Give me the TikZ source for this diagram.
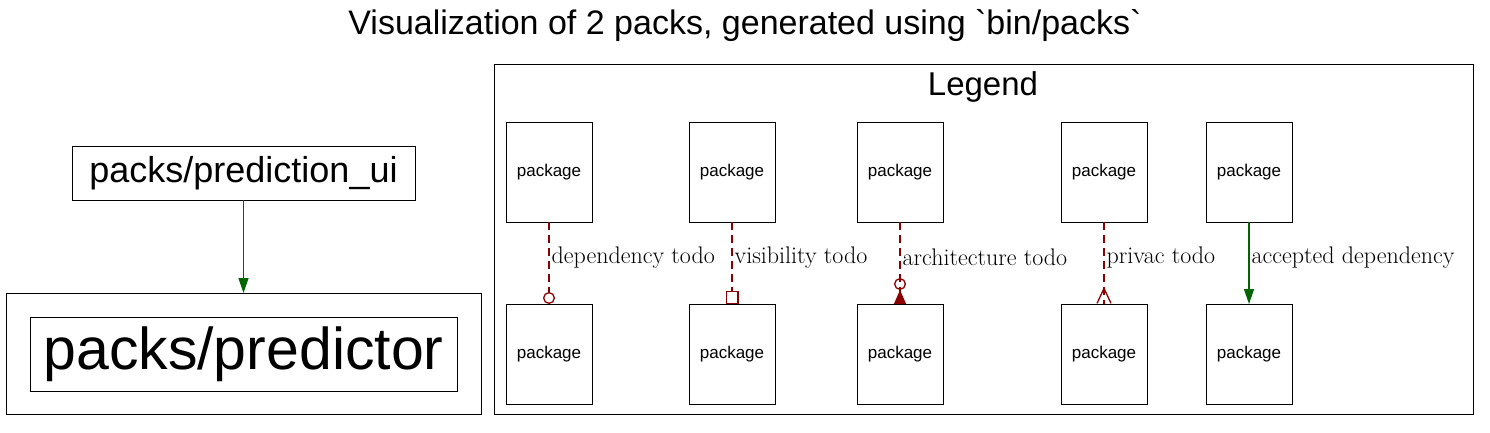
\documentclass[tikz,border=0pt]{standalone}
\usepackage{fontspec}
\newfontfamily\arialfont{Liberation Sans}
\usepackage{tikz}
\usetikzlibrary{positioning,arrows.meta}
\definecolor{edgered}{RGB}{139,0,0}
\definecolor{edgegreen}{RGB}{0,100,0}

\begin{document}
\begin{tikzpicture}[x=1pt,y=1pt,
    frame/.style={draw,line width=1pt,inner sep=0pt,outer sep=0pt},
    pkg/.style={frame,minimum width=86pt,minimum height=100pt,font=\arialfont\fontsize{17}{20}\selectfont},
    todo/.style={draw=edgered,line width=1.3pt,dash pattern=on 8pt off 5pt},
    ok/.style={draw=edgegreen,line width=1.3pt,-{Triangle[length=15pt,width=10pt]}},
    lbl/.style={right,inner sep=2pt,font=\fontsize{24}{26}\selectfont}]
  \useasboundingbox (0,0) rectangle (1490,-432);

  \node[font=\arialfont\fontsize{34}{40}\selectfont] (title) at (745,-26) {Visualization of 2 packs, generated using `bin/packs`};

  %packs
  \node[frame,minimum width=475pt,minimum height=121pt] (cluster) at (243.5,-353.5) {};
  \node[frame,minimum width=427pt,minimum height=74pt,font=\arialfont\fontsize{59}{64}\selectfont] (predictor) at (243.5,-354) {packs/predictor};
  \node[frame,minimum width=343pt,minimum height=54pt,font=\arialfont\fontsize{36}{40}\selectfont] (predictionui) at (243.5,-173) {packs/prediction\_ui};
  \draw[ok] (predictionui) -- (cluster);

  %legend
  \node[frame,minimum width=979pt,minimum height=350pt] (legend) at (983.5,-239) {};
  \node[font=\arialfont\fontsize{33}{38}\selectfont] (legendtitle) at (983,-87) {Legend};

  \node[pkg] (deptop) at (549,-172) {package};
  \node[pkg,right=97pt of deptop] (vistop) {package};
  \node[pkg,right=82pt of vistop] (archtop) {package};
  \node[pkg,right=118pt of archtop] (privtop) {package};
  \node[pkg,right=59pt of privtop] (acctop) {package};

  \node[pkg,below=82pt of deptop] (depbot) {package};
  \node[pkg,below=82pt of vistop] (visbot) {package};
  \node[pkg,below=82pt of archtop] (archbot) {package};
  \node[pkg,below=82pt of privtop] (privbot) {package};
  \node[pkg,below=82pt of acctop] (accbot) {package};

  \draw[todo,-{Circle[open,length=12pt]}] (deptop) -- node[lbl,pos=0.43] {dependency todo} (depbot);
  \draw[todo,-{Square[open,length=13pt,width=13pt]}] (vistop) -- node[lbl,pos=0.43] {visibility todo} (visbot);
  \draw[todo,-{Circle[open,length=12pt]Triangle[reversed,length=14pt,width=12pt]}] (archtop) -- node[lbl,pos=0.43] {architecture todo} (archbot);
  \draw[todo,-{Straight Barb[reversed,length=15pt,width=14pt]},postaction={draw,-}] (privtop) -- node[lbl,pos=0.43] {privac todo} (privbot);
  \draw[ok] (acctop) -- node[lbl,pos=0.43] {accepted dependency} (accbot);
\end{tikzpicture}
\end{document}
